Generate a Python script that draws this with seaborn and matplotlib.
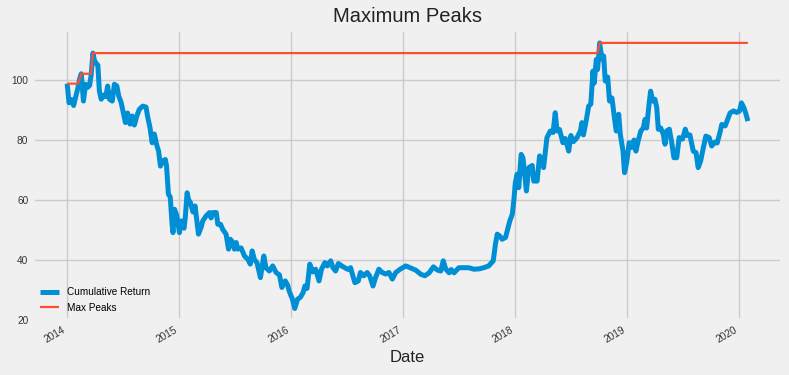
import pandas as pd
import seaborn as sns
import matplotlib.pyplot as plt
import matplotlib.dates as mdates

# values (roughly weekly)
dates = [
    '2014-01-02', '2014-01-08', '2014-01-16', '2014-01-23', '2014-01-29', '2014-02-06',
    '2014-02-11', '2014-02-17', '2014-02-24', '2014-03-03', '2014-03-09', '2014-03-16',
    '2014-03-21', '2014-03-27', '2014-04-01', '2014-04-07', '2014-04-12', '2014-04-17',
    '2014-04-23', '2014-05-01', '2014-05-08', '2014-05-14', '2014-05-20', '2014-05-29',
    '2014-06-05', '2014-06-13', '2014-06-19', '2014-06-27', '2014-07-04', '2014-07-11',
    '2014-07-18', '2014-07-26', '2014-08-02', '2014-08-09', '2014-08-17', '2014-08-25',
    '2014-09-05', '2014-09-16', '2014-09-21', '2014-09-29', '2014-10-06', '2014-10-13',
    '2014-10-21', '2014-10-27', '2014-11-02', '2014-11-09', '2014-11-18', '2014-11-22',
    '2014-11-28', '2014-12-04', '2014-12-10', '2014-12-13', '2014-12-18', '2014-12-25',
    '2015-01-03', '2015-01-09', '2015-01-18', '2015-01-22', '2015-01-28', '2015-02-02',
    '2015-02-08', '2015-02-16', '2015-02-23', '2015-03-02', '2015-03-06', '2015-03-15',
    '2015-03-20', '2015-03-31', '2015-04-11', '2015-04-16', '2015-04-22', '2015-05-03',
    '2015-05-08', '2015-05-17', '2015-05-24', '2015-06-04', '2015-06-12', '2015-06-18',
    '2015-06-26', '2015-07-01', '2015-07-07', '2015-07-12', '2015-07-23', '2015-08-03',
    '2015-08-14', '2015-08-22', '2015-08-28', '2015-09-04', '2015-09-13', '2015-09-24',
    '2015-10-05', '2015-10-12', '2015-10-23', '2015-11-03', '2015-11-14', '2015-11-25',
    '2015-12-03', '2015-12-14', '2015-12-22', '2015-12-27',
    '2016-01-06', '2016-01-14', '2016-01-23', '2016-02-01', '2016-02-10', '2016-02-16',
    '2016-02-23', '2016-03-03', '2016-03-12', '2016-03-22', '2016-04-02', '2016-04-10',
    '2016-04-21', '2016-04-29', '2016-05-10', '2016-05-17', '2016-05-26', '2016-06-04',
    '2016-06-15', '2016-06-25', '2016-07-06', '2016-07-14', '2016-07-19', '2016-07-28',
    '2016-08-08', '2016-08-15', '2016-08-26', '2016-09-06', '2016-09-14', '2016-09-25',
    '2016-10-03', '2016-10-14', '2016-10-25', '2016-11-05', '2016-11-16', '2016-11-27',
    '2016-12-08', '2016-12-24',
    '2017-01-10', '2017-01-26', '2017-02-11', '2017-02-28', '2017-03-13', '2017-03-27',
    '2017-04-10', '2017-04-23', '2017-05-04', '2017-05-12', '2017-05-20', '2017-05-31',
    '2017-06-07', '2017-06-16', '2017-07-02', '2017-07-18', '2017-08-03', '2017-08-20',
    '2017-09-05', '2017-09-21', '2017-10-07', '2017-10-22', '2017-10-29', '2017-11-04',
    '2017-11-12', '2017-11-20', '2017-12-01', '2017-12-08', '2017-12-15', '2017-12-23',
    '2017-12-28',
    '2018-01-02', '2018-01-08', '2018-01-13', '2018-01-21', '2018-01-27', '2018-02-07',
    '2018-02-15', '2018-02-26', '2018-03-03', '2018-03-14', '2018-03-22', '2018-03-30',
    '2018-04-04', '2018-04-15', '2018-04-26', '2018-05-05', '2018-05-12', '2018-05-18',
    '2018-05-26', '2018-06-06', '2018-06-14', '2018-06-25', '2018-07-02', '2018-07-11',
    '2018-07-22', '2018-08-02', '2018-08-07', '2018-08-12', '2018-08-21', '2018-08-29',
    '2018-09-05', '2018-09-12', '2018-09-16', '2018-09-23', '2018-09-27', '2018-10-04',
    '2018-10-11', '2018-10-17', '2018-10-22', '2018-10-30', '2018-11-05', '2018-11-13',
    '2018-11-21', '2018-11-27', '2018-12-05', '2018-12-10', '2018-12-19', '2018-12-24',
    '2018-12-31',
    '2019-01-08', '2019-01-16', '2019-01-24', '2019-01-30', '2019-02-07', '2019-02-15',
    '2019-02-23', '2019-03-01', '2019-03-06', '2019-03-15', '2019-03-19', '2019-03-26',
    '2019-04-02', '2019-04-08', '2019-04-13', '2019-04-21', '2019-04-29', '2019-05-05',
    '2019-05-10', '2019-05-19', '2019-05-27', '2019-06-03', '2019-06-12', '2019-06-20',
    '2019-07-01', '2019-07-10', '2019-07-16', '2019-07-25', '2019-08-05', '2019-08-14',
    '2019-08-21', '2019-08-29', '2019-09-07', '2019-09-15', '2019-09-26', '2019-10-04',
    '2019-10-15', '2019-10-22', '2019-10-31', '2019-11-06', '2019-11-17', '2019-11-27',
    '2019-12-03', '2019-12-14', '2019-12-25',
    '2020-01-03', '2020-01-09', '2020-01-16', '2020-01-23', '2020-01-30',
]
cum_return = [
    98.8, 92.4, 93.5, 91.5, 94.0, 97.4,
    100.2, 102.1, 93.0, 98.6, 97.5, 98.2,
    101.5, 109.0, 106.5, 105.5, 105.0, 96.3,
    93.6, 95.0, 94.5, 98.0, 93.6, 93.0,
    98.6, 98.0, 94.7, 92.5, 89.1, 85.8,
    89.0, 85.3, 88.0, 85.0, 88.0, 90.2,
    91.3, 91.0, 88.0, 84.1, 79.1, 82.0,
    78.3, 76.3, 71.3, 73.0, 73.5, 71.3,
    61.9, 61.0, 51.9, 49.1, 56.9, 55.0,
    49.1, 53.0, 50.6, 54.1, 62.4, 60.0,
    59.1, 56.0, 58.0, 51.9, 48.6, 51.0,
    53.0, 54.7, 55.8, 54.0, 55.8, 55.8,
    51.9, 51.9, 50.2, 48.6, 43.6, 46.9,
    45.8, 43.6, 45.8, 43.6, 44.0, 41.3,
    40.2, 38.6, 43.0, 40.2, 39.0, 34.1,
    41.3, 37.4, 36.3, 38.0, 35.8, 35.0,
    30.8, 33.0, 31.5, 29.5,
    27.0, 23.8, 26.9, 27.5, 29.1, 31.3,
    30.5, 38.6, 36.0, 36.9, 33.0, 36.9,
    39.1, 38.0, 39.7, 37.5, 36.3, 38.8,
    38.0, 37.4, 36.8, 37.4, 35.5, 32.4,
    33.0, 35.8, 34.7, 35.8, 34.7, 31.3,
    34.0, 36.9, 35.8, 35.3, 35.8, 33.6,
    35.8, 37.0,
    38.0, 37.3, 36.6, 35.2, 34.7, 35.7,
    37.7, 36.6, 36.3, 39.7, 37.0, 35.7,
    36.8, 35.7, 37.4, 37.4, 37.4, 36.9,
    37.0, 37.4, 38.0, 39.7, 45.2, 48.6,
    48.0, 46.9, 47.5, 50.2, 53.0, 55.2,
    59.7,
    65.8, 68.6, 64.1, 75.2, 74.0, 63.0,
    70.8, 71.5, 66.3, 66.3, 74.7, 73.5,
    70.8, 80.8, 83.0, 82.5, 89.1, 83.0,
    83.5, 79.1, 80.5, 76.3, 81.5, 79.5,
    80.8, 83.0, 85.8, 81.7, 86.5, 91.3,
    92.0, 103.0, 99.0, 106.9, 103.5, 112.4,
    107.0, 108.0, 99.7, 101.0, 93.0, 94.0,
    87.4, 83.0, 88.6, 82.0, 76.3, 69.1,
    72.5,
    79.1, 77.5, 80.0, 76.3, 80.0, 83.0,
    84.0, 86.9, 84.0, 93.0, 96.3, 93.0,
    93.6, 90.8, 83.6, 84.0, 82.0, 78.6,
    83.0, 83.6, 79.0, 74.1, 74.1, 80.8,
    80.3, 83.6, 81.5, 81.7, 76.3, 75.8,
    70.8, 73.0, 77.5, 81.3, 80.8, 78.0,
    79.3, 79.0, 82.5, 85.2, 84.7, 87.4,
    89.0, 89.7, 89.2,
    89.7, 92.4, 91.0, 89.0, 86.3,
]

df = pd.DataFrame({'Date': pd.to_datetime(dates), 'Cumulative Return': cum_return})
df['Max Peaks'] = df['Cumulative Return'].cummax()

#%% plot
plt.style.use('fivethirtyeight')
plt.rcParams['font.family'] = ['Liberation Sans', 'DejaVu Sans']

fig = plt.figure(figsize=(7.89, 3.75), dpi=100)
ax = fig.add_axes([0.042, 0.147, 0.949, 0.773])

sns.lineplot(data=df, x='Date', y='Cumulative Return', ax=ax, color='#008fd5',
             linewidth=3.6, label='Cumulative Return')
sns.lineplot(data=df, x='Date', y='Max Peaks', ax=ax, color='#fc4f30',
             linewidth=1.6, label='Max Peaks')

ax.set_ylim(20, 116.7)
ax.xaxis.set_major_locator(mdates.YearLocator())
ax.xaxis.set_major_formatter(mdates.DateFormatter('%Y'))
for lbl in ax.get_xticklabels():
    lbl.set_rotation(30)
    lbl.set_ha('right')
ax.tick_params(axis='both', labelsize=7.3, colors='#333333')

ax.set_title('Maximum Peaks', fontsize=14.5, color='#222222')
ax.set_xlabel('Date', fontsize=12, color='#222222')
ax.set_ylabel('')
ax.legend(loc='lower left', fontsize=7.2, frameon=False, handlelength=1.9,
          labelspacing=0.55, borderaxespad=0.3)

fig.savefig('out.png', dpi=100, facecolor=fig.get_facecolor())
